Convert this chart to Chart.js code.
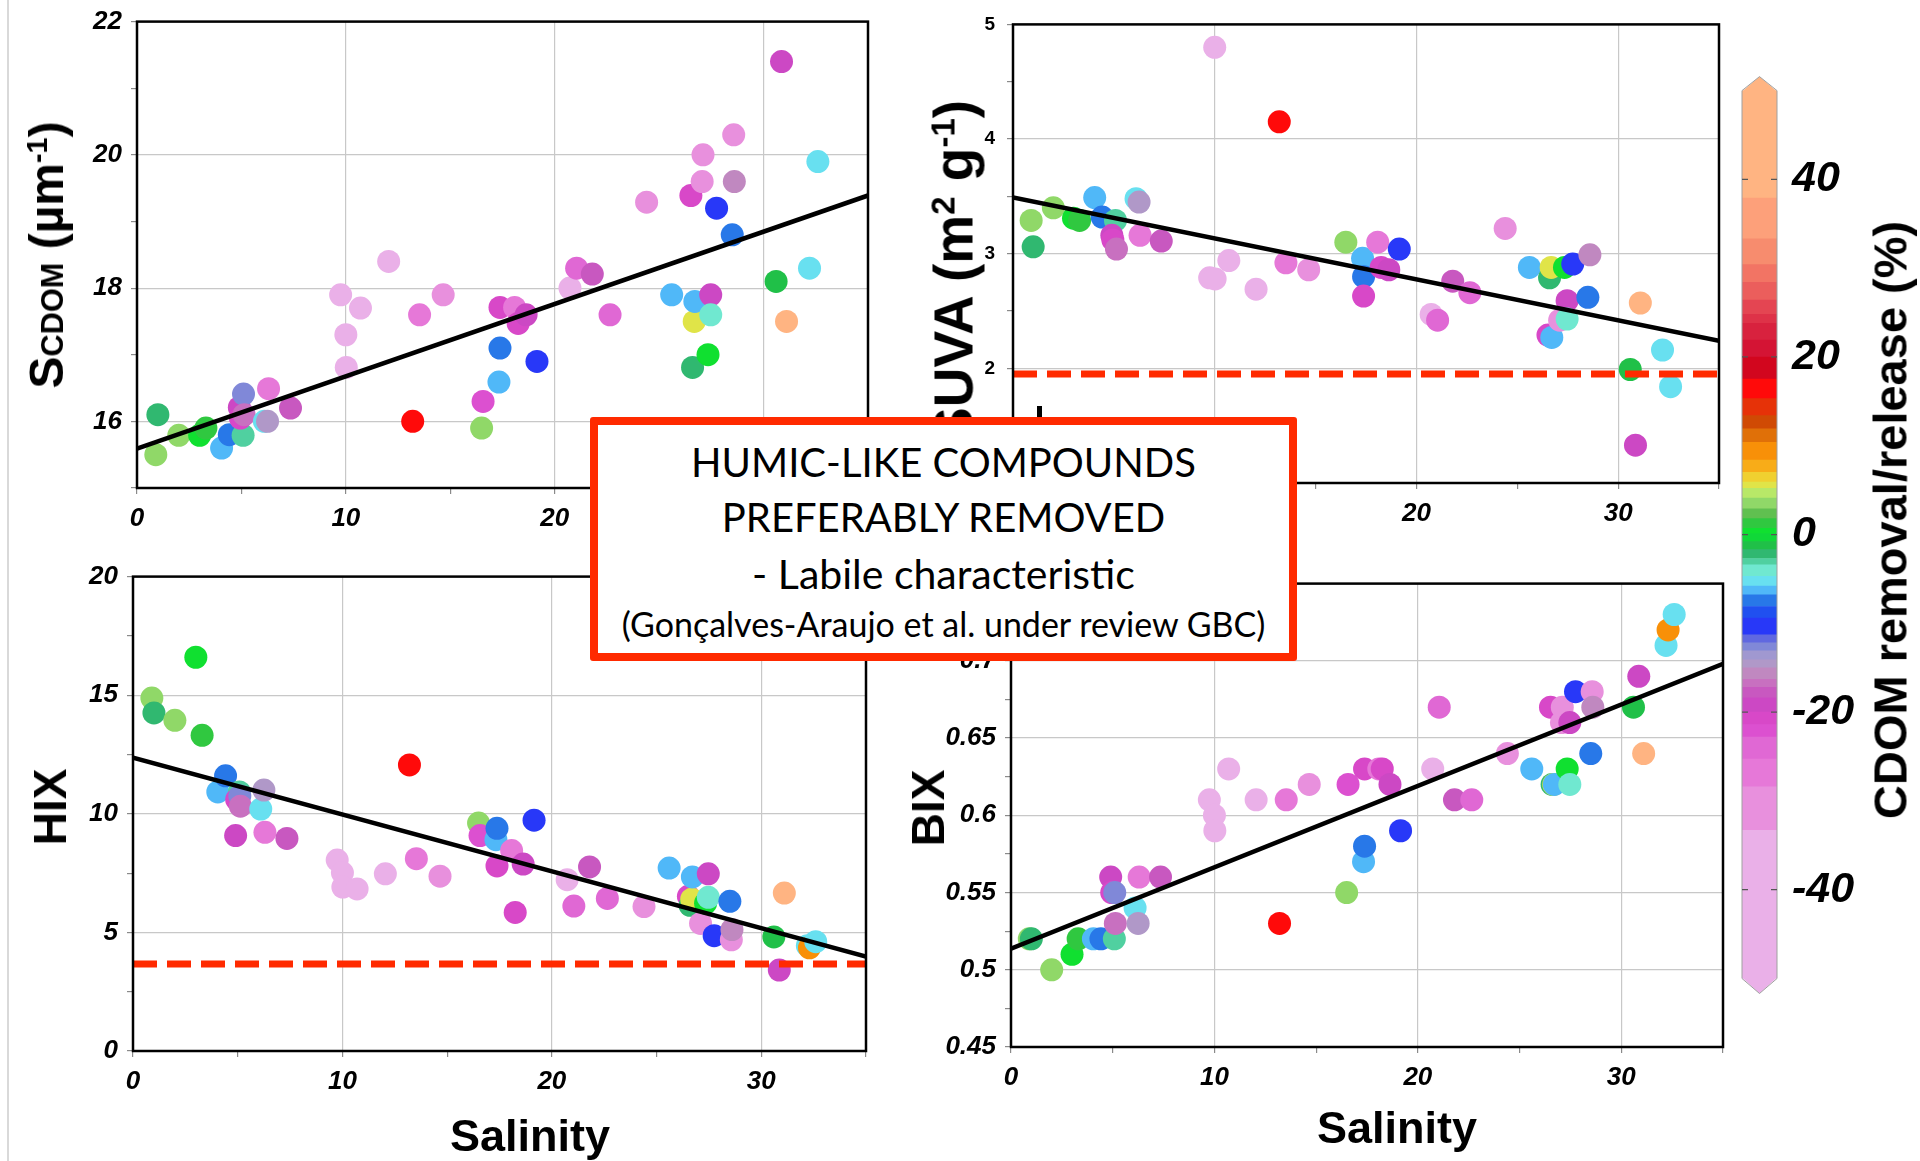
<!DOCTYPE html>
<html>
<head>
<meta charset="utf-8">
<script src="https://cdn.jsdelivr.net/npm/chart.js@4.4.1/dist/chart.umd.min.js"></script>
<style>
body { margin:0; width:1920px; height:1161px; background:#fff; position:relative; overflow:hidden; font-family:"Liberation Sans", Arial, sans-serif; }
canvas { position:absolute; }
.tit { position:absolute; transform:translate(-50%,-50%) rotate(-90deg); font-weight:bold; white-space:nowrap; color:#000; line-height:1; }
.tit sup { font-size:0.6em; line-height:0; vertical-align:0.55em; }
.xt { position:absolute; transform:translateX(-50%); font-weight:bold; font-size:45px; white-space:nowrap; line-height:1; }
#caja { position:absolute; left:590px; top:417px; width:691px; height:228px; border:8px solid #ff2a00; border-radius:3px; background:#fff; }
.linea { position:absolute; left:0; width:100%; text-align:center; font-family:Lato, "Open Sans", sans-serif; white-space:nowrap; line-height:1; color:#000; }
</style>
</head>
<body>
<div style="position:absolute;left:7px;top:0;width:2px;height:1161px;background:#d9d9d9"></div>

<canvas id="panelScdom"></canvas>
<canvas id="panelSuva"></canvas>
<canvas id="panelHix"></canvas>
<canvas id="panelBix"></canvas>
<canvas id="barra"></canvas>

<div class="tit" style="left:47px;top:255px;font-size:48px">S<span style="font-size:0.64em">CDOM</span> (µm<sup>-1</sup>)</div>
<div class="tit" style="left:954px;top:272px;font-size:55px">SUVA (m<sup>2</sup> g<sup>-1</sup>)</div>
<div class="tit" style="left:50px;top:807px;font-size:46px">HIX</div>
<div class="tit" style="left:928px;top:808px;font-size:46px">BIX</div>
<div class="tit" style="left:1890px;top:520px;font-size:47px">CDOM removal/release (%)</div>
<div class="xt" style="left:530px;top:1113px">Salinity</div>
<div class="xt" style="left:1397px;top:1105px">Salinity</div>

<div style="position:absolute;left:1037px;top:406px;width:5px;height:13px;background:#000"></div>
<div id="caja">
  <div class="linea" style="top:17px;font-size:40px">HUMIC-LIKE COMPOUNDS</div>
  <div class="linea" style="top:72px;font-size:40px">PREFERABLY REMOVED</div>
  <div class="linea" style="top:128px;font-size:41px">- Labile characteristic</div>
  <div class="linea" style="top:182px;font-size:34px">(Gonçalves-Araujo et al. under review GBC)</div>
</div>

<script>
// estaciones: salinidad, % de remocion/liberacion de CDOM y las cuatro variables
const salinidad = [0.9, 1.0, 2.0, 3.0, 3.3, 4.05, 4.42, 5.08, 4.9, 4.95,
  5.1, 5.13, 6.1, 6.25, 6.3, 7.35, 9.75, 10.0, 10.02, 10.7,
  12.05, 13.2, 13.53, 14.66, 16.5, 16.57, 17.33, 17.38, 17.38, 18.08,
  18.25, 18.63, 19.15, 20.73, 21.05, 21.8, 22.65, 24.4, 25.6, 26.52,
  26.6, 26.68, 26.71, 27.1, 27.06, 27.34, 27.47, 27.47, 27.75, 28.5,
  28.57, 28.6, 30.6, 30.86, 31.1, 32.2, 32.3, 32.6];
const cdomPct = [3.5, -2.2, 3.0, 0.4, 1.2, -6.5, -7.5, -3.0, -19.5, -21,
  -12.7, -16.5, -5.3, -14.5, -27, -18, -40, -40, -40, -50,
  -40, 16, -27, -29, 3.5, -22, -6.3, -7.5, -21, -27,
  -21, -20, -10.5, -38, -25, -18, -24, -30, -6.3, -20.5,
  -2.2, 5.5, -6.5, -30, -31, 0.4, -20, -4, -10.5, -7,
  -31, -15.5, -1.2, -19.5, 45, -5, 9, -5];
const scdom = [15.5, 16.1, 15.79, 15.79, 15.9, 15.6, 15.8, 15.79, 16.21, 16.05,
  16.41, 16.1, 16.0, 16.0, 16.49, 16.2, 17.9, 17.3, 16.81, 17.7,
  18.4, 16.0, 17.6, 17.9, 15.9, 16.3, 16.59, 17.1, 17.71, 17.71,
  17.47, 17.6, 16.9, 18.0, 18.3, 18.21, 17.6, 19.29, 17.9, 19.39,
  16.81, 17.5, 17.8, 20.0, 19.6, 17.0, 17.9, 17.6, 19.2, 18.8,
  20.3, 19.6, 18.1, 21.4, 17.5, 18.3, null, 19.9];
const suva = [3.29, 3.06, 3.40, 3.31, 3.29, 3.49, 3.32, 3.29, 3.16, 3.12,
  null, 3.04, 3.48, 3.45, 3.16, 3.11, 2.79, 4.8, 2.78, 2.94,
  2.69, 4.15, 2.92, 2.86, 3.10, null, 2.96, 2.80, 2.63, 3.10,
  2.88, 2.86, 3.04, 2.47, 2.42, 2.76, 2.66, 3.22, 2.88, 2.29,
  2.79, 2.88, 2.27, 2.42, null, 2.88, 2.59, 2.43, 2.91, 2.62,
  null, 2.99, 1.99, 1.33, 2.57, 2.16, null, 1.84];
const hix = [14.88, 14.25, 13.94, 16.6, 13.31, 10.92, 11.6, 10.92, 9.08, 10.6,
  10.75, 10.32, 10.2, 11.0, 9.22, 8.96, 8.05, 7.51, 6.91, 6.83,
  7.47, 12.06, 8.11, 7.37, 9.61, 9.08, 8.91, 9.39, 7.8, 8.45,
  5.84, 7.88, 9.73, 7.22, 6.11, 7.76, 6.43, 6.09, 7.71, 6.52,
  6.14, 6.4, 7.34, 5.38, null, 6.23, 7.47, 6.48, 4.86, 6.31,
  4.69, 5.12, 4.81, 3.41, 6.66, 4.44, 4.35, 4.61];
const bix = [0.52, 0.52, 0.50, 0.51, 0.52, 0.52, 0.52, 0.52, 0.56, 0.55,
  0.55, 0.53, 0.54, 0.53, 0.56, 0.56, 0.61, 0.60, 0.59, 0.63,
  0.61, 0.53, 0.61, 0.62, 0.55, 0.62, 0.57, 0.58, 0.63, 0.63,
  0.63, 0.62, 0.59, 0.63, 0.67, 0.61, 0.61, 0.64, 0.63, 0.67,
  0.62, 0.62, 0.62, 0.67, 0.66, 0.63, 0.66, 0.62, 0.68, 0.64,
  0.68, 0.67, 0.67, 0.69, 0.64, 0.71, 0.72, 0.73];

// rectas de ajuste (extremos en salinidad 0 y 35) y umbrales
const ajusteX = [0, 35];
const ajusteScdom = [15.59, 19.39];
const ajusteSuva = [3.49, 2.24];
const ajusteHix = [12.37, 3.98];
const ajusteBix = [0.5136, 0.698];
const umbralSuva = 1.95;
const umbralHix = 3.67;

const ticksSalinidad = [0, 10, 20, 30];
const ticksScdom = [16, 18, 20, 22];
const ticksSuva = [2, 3, 4, 5];
const ticksHix = [0, 5, 10, 15, 20];
const ticksBix = [0.45, 0.5, 0.55, 0.6, 0.65, 0.7];

// escala de colores
const cbNiveles = [-50, -33.3, -28.4, -25.3, -22.8, -21.4, -20, -18.4, -17.2, -16.3,
  -15, -14.1, -13.1, -12.2, -11.3, -9.4, -8.1, -6.8, -5.8, -4.7,
  -3.4, -2.7, -1.7, -0.8, 0.1, 0.7, 1.8, 2.9, 4.1, 5.2,
  5.9, 7, 8.4, 10.4, 11.9, 13.4, 15.3, 17.5, 20, 21.9,
  23.8, 24.8, 26.4, 28.4, 30.4, 33.3, 37.9, 50];
const cbColores = ['#eab0e8', '#e890dd', '#e678d8', '#e068d4', '#dc50d0', '#d848c8', '#cc48c4', '#c858c0', '#c870c0', '#c088c0',
  '#b098c8', '#a098d0', '#8088d8', '#6068e0', '#2838f8', '#2050f0', '#2878e8', '#50b8f8', '#68e0f0', '#70e8d0',
  '#50d0a0', '#30b870', '#20c048', '#10d838', '#10e030', '#30c840', '#60c050', '#90d868', '#b8e868', '#e0e448',
  '#f0d030', '#f8ac18', '#f89008', '#e07008', '#d04a04', '#e63208', '#ff0a0a', '#d2061e', '#d41434', '#d8223e',
  '#de3248', '#e44552', '#eb5e5c', '#f27464', '#f78c6e', '#fda07a', '#ffb482'];
const cbTicks = [-40, -20, 0, 20, 40];

const FAM = '"Liberation Sans", Arial, sans-serif';

function colorDe(v) {
    for (let i = 0; i < cbColores.length; i++) {
        if (v < cbNiveles[i + 1]) return cbColores[i];
    }
    return cbColores[cbColores.length - 1];
}

function estaEn(lista, v) {
    return lista.some(t => Math.abs(t - v) < 1e-6);
}

const marco = {
    id: 'marco',
    afterDatasetsDraw(chart) {
        const a = chart.chartArea, ctx = chart.ctx;
        ctx.save();
        ctx.strokeStyle = '#000';
        ctx.lineWidth = 2.5;
        ctx.strokeRect(a.left, a.top, a.right - a.left, a.bottom - a.top);
        ctx.restore();
    }
};

function crearPanel(id, area, valores, ejeY, ajuste, umbral) {
    const YW = 110, XH = 70, PT = 20, PR = 20;
    const canvas = document.getElementById(id);
    canvas.width = (area.right - area.left) + YW + PR;
    canvas.height = (area.bottom - area.top) + PT + XH;
    canvas.style.left = (area.left - YW) + 'px';
    canvas.style.top = (area.top - PT) + 'px';

    const puntos = [], colores = [];
    salinidad.forEach((s, i) => {
        if (valores[i] === null) return;
        puntos.push({ x: s, y: valores[i] });
        colores.push(colorDe(cdomPct[i]));
    });

    const datasets = [{
        type: 'line',
        data: [{ x: ajusteX[0], y: ajuste[0] }, { x: ajusteX[1], y: ajuste[1] }],
        borderColor: '#000', borderWidth: 4.5, pointRadius: 0, fill: false, order: 0
    }];
    if (umbral !== null) {
        datasets.push({
            type: 'line',
            data: [{ x: ajusteX[0], y: umbral }, { x: ajusteX[1], y: umbral }],
            borderColor: '#ff2a00', borderWidth: 7, borderDash: [24, 10], pointRadius: 0, fill: false, order: 0
        });
    }
    datasets.push({
        type: 'scatter',
        data: puntos,
        backgroundColor: colores,
        pointBackgroundColor: colores,
        pointBorderWidth: 0,
        pointRadius: 11.5,
        order: 1
    });

    new Chart(canvas, {
        type: 'scatter',
        data: { datasets: datasets },
        options: {
            responsive: false,
            animation: false,
            layout: { padding: { left: 0, top: PT, right: PR, bottom: 0 } },
            plugins: { legend: { display: false }, tooltip: { enabled: false } },
            scales: {
                x: {
                    type: 'linear', min: 0, max: 35,
                    border: { display: false },
                    grid: {
                        color: c => (c.tick && estaEn(ticksSalinidad, c.tick.value) && c.tick.value > 0) ? '#c8c8c8' : 'rgba(0,0,0,0)',
                        lineWidth: 1.2, tickColor: '#8a8a8a', tickLength: 6
                    },
                    ticks: {
                        stepSize: 5, padding: 9, color: '#000', autoSkip: false, maxRotation: 0, includeBounds: false,
                        font: { family: FAM, size: 26, weight: 'bold', style: 'italic' },
                        callback: v => estaEn(ticksSalinidad, v) ? String(v) : ''
                    },
                    afterFit: s => { s.height = XH; }
                },
                y: {
                    type: 'linear', min: ejeY.min, max: ejeY.max,
                    border: { display: false },
                    grid: {
                        color: c => (c.tick && estaEn(ejeY.ticks, c.tick.value) && c.tick.value > ejeY.min + 1e-6 && c.tick.value < ejeY.max - 1e-6) ? '#c8c8c8' : 'rgba(0,0,0,0)',
                        lineWidth: 1.2, tickColor: '#8a8a8a', tickLength: 6
                    },
                    ticks: {
                        stepSize: ejeY.paso, padding: ejeY.pad, color: '#000', autoSkip: false,
                        font: ejeY.fuente,
                        callback: v => estaEn(ejeY.ticks, v) ? String(Math.round(v * 100) / 100) : ''
                    },
                    afterFit: s => { s.width = YW; }
                }
            }
        },
        plugins: [marco]
    });
}

const puntas = {
    id: 'puntas',
    afterDatasetsDraw(chart) {
        const a = chart.chartArea, ctx = chart.ctx, y = chart.scales.y;
        const arriba = y.getPixelForValue(cbNiveles[cbNiveles.length - 1]);
        const abajo = y.getPixelForValue(cbNiveles[0]);
        const mid = (a.left + a.right) / 2;
        ctx.save();
        ctx.fillStyle = cbColores[cbColores.length - 1];
        ctx.beginPath();
        ctx.moveTo(a.left, arriba + 1); ctx.lineTo(mid, arriba - 14); ctx.lineTo(a.right, arriba + 1);
        ctx.closePath(); ctx.fill();
        ctx.fillStyle = cbColores[0];
        ctx.beginPath();
        ctx.moveTo(a.left, abajo - 1); ctx.lineTo(mid, abajo + 15); ctx.lineTo(a.right, abajo - 1);
        ctx.closePath(); ctx.fill();
        ctx.strokeStyle = '#a0a0a0';
        ctx.lineWidth = 1;
        ctx.beginPath();
        ctx.moveTo(a.left, abajo); ctx.lineTo(a.left, arriba); ctx.lineTo(mid, arriba - 14);
        ctx.lineTo(a.right, arriba); ctx.lineTo(a.right, abajo); ctx.lineTo(mid, abajo + 15);
        ctx.closePath(); ctx.stroke();
        ctx.strokeStyle = '#555';
        ctx.lineWidth = 1.2;
        cbTicks.forEach(v => {
            const py = y.getPixelForValue(v);
            ctx.beginPath();
            ctx.moveTo(a.left, py); ctx.lineTo(a.left + 6, py);
            ctx.moveTo(a.right - 6, py); ctx.lineTo(a.right, py);
            ctx.stroke();
        });
        ctx.restore();
    }
};

function crearBarra() {
    const canvas = document.getElementById('barra');
    canvas.width = 140;
    canvas.height = 1040;
    canvas.style.left = '1730px';
    canvas.style.top = '20px';
    const datasets = cbColores.map((c, i) => ({
        data: [[cbNiveles[i], cbNiveles[i + 1]]],
        backgroundColor: c, borderWidth: 0,
        barPercentage: 1, categoryPercentage: 1, grouped: false
    }));
    new Chart(canvas, {
        type: 'bar',
        data: { labels: [''], datasets: datasets },
        options: {
            responsive: false,
            animation: false,
            layout: { padding: { left: 12, top: 70.6, right: 0, bottom: 81.5 } },
            plugins: { legend: { display: false }, tooltip: { enabled: false } },
            scales: {
                x: { display: false },
                y: {
                    position: 'right', min: -50, max: 50,
                    border: { display: false },
                    grid: { display: false, drawTicks: false },
                    ticks: {
                        stepSize: 10, padding: 15, color: '#000', autoSkip: false,
                        font: { family: FAM, size: 43, weight: 'bold', style: 'italic' },
                        callback: v => estaEn(cbTicks, v) ? String(v) : ''
                    },
                    afterFit: s => { s.width = 93; }
                }
            }
        },
        plugins: [puntas]
    });
}

const fuenteTicks = { family: FAM, size: 26, weight: 'bold', style: 'italic' };

crearPanel('panelScdom', { left: 137, right: 868, top: 17, bottom: 488 }, scdom,
    { min: 15, max: 22, paso: 1, ticks: ticksScdom, pad: 9, fuente: fuenteTicks }, ajusteScdom, null);
crearPanel('panelSuva', { left: 1013, right: 1719, top: 21, bottom: 483 }, suva,
    { min: 1, max: 5, paso: 0.5, ticks: ticksSuva, pad: 12, fuente: { family: FAM, size: 19, weight: 'bold' } }, ajusteSuva, umbralSuva);
crearPanel('panelHix', { left: 133, right: 866, top: 572, bottom: 1051 }, hix,
    { min: 0, max: 20, paso: 2.5, ticks: ticksHix, pad: 9, fuente: fuenteTicks }, ajusteHix, umbralHix);
crearPanel('panelBix', { left: 1011, right: 1723, top: 579, bottom: 1047 }, bix,
    { min: 0.45, max: 0.75, paso: 0.025, ticks: ticksBix, pad: 9, fuente: fuenteTicks }, ajusteBix, null);
crearBarra();
</script>
</body>
</html>
